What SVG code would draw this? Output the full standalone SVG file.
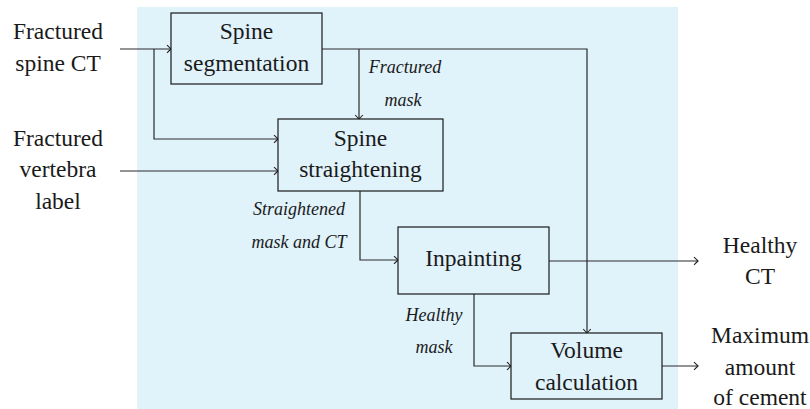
<svg xmlns="http://www.w3.org/2000/svg" width="810" height="409" viewBox="0 0 810 409" font-family="Liberation Serif, serif">
<defs>
<marker id="arr" viewBox="-6 -6 12 12" refX="0" refY="0" markerWidth="12" markerHeight="12" markerUnits="userSpaceOnUse" orient="auto">
<path d="M-4,-3.8 Q-1.2,-1.2 0,0 Q-1.2,1.2 -4,3.8" fill="none" stroke="#222" stroke-width="1.1"/>
</marker>
</defs>
<style>
.bg{fill:#e0f2fa;stroke:none}
.box{fill:#e0f2fa;stroke:#1a1a1a;stroke-width:1.2}
text{fill:#1a1a1a;text-anchor:middle}
.t{font-size:23.5px}
.i{font-size:18px;font-style:italic}
.c{fill:none;stroke:#2a2a2a;stroke-width:1.2}
.a{marker-end:url(#arr)}
</style>
<rect class="bg" x="137" y="7" width="541" height="402"/>
<g id="connectors">
<path class="c a" d="M120,49 H171"/>
<path class="c a" d="M154,49 V139 H278"/>
<path class="c a" d="M120,171 H278"/>
<path class="c a" d="M322,49 H587 V333"/>
<path class="c a" d="M359,49 V119"/>
<path class="c a" d="M360,191 V260 H398"/>
<path class="c a" d="M549,261 H698"/>
<path class="c a" d="M474,294 V366 H511"/>
<path class="c a" d="M662,366 H698"/>
</g>
<g id="labels" font-family="Liberation Serif">
<text class="i" x="405" y="73">Fractured</text>
<text class="i" x="403" y="106">mask</text>
<text class="i" x="299" y="215">Straightened</text>
<text class="i" x="299" y="248">mask and CT</text>
<text class="i" x="434" y="321">Healthy</text>
<text class="i" x="434" y="353">mask</text>
</g>
<g id="in-ct" font-family="Liberation Serif">
<text class="t" x="58" y="39">Fractured</text>
<text class="t" x="58" y="71">spine CT</text>
</g>
<g id="in-label" font-family="Liberation Serif">
<text class="t" x="58" y="146">Fractured</text>
<text class="t" x="58" y="177">vertebra</text>
<text class="t" x="58" y="209">label</text>
</g>
<g id="seg" font-family="Liberation Serif">
<rect class="box" x="171" y="13" width="151" height="71"/>
<text class="t" x="246.5" y="39">Spine</text>
<text class="t" x="246.5" y="71">segmentation</text>
</g>
<g id="straight" font-family="Liberation Serif">
<rect class="box" x="278" y="119" width="165" height="72"/>
<text class="t" x="360.5" y="146">Spine</text>
<text class="t" x="360.5" y="177">straightening</text>
</g>
<g id="inpaint" font-family="Liberation Serif">
<rect class="box" x="398" y="227" width="151" height="67"/>
<text class="t" x="473.5" y="266">Inpainting</text>
</g>
<g id="volume" font-family="Liberation Serif">
<rect class="box" x="511" y="333" width="151" height="66"/>
<text class="t" x="586.5" y="358">Volume</text>
<text class="t" x="586.5" y="390">calculation</text>
</g>
<g id="out-ct" font-family="Liberation Serif">
<text class="t" x="760" y="253">Healthy</text>
<text class="t" x="760" y="284">CT</text>
</g>
<g id="out-cement" font-family="Liberation Serif">
<text class="t" x="760" y="343">Maximum</text>
<text class="t" x="760" y="375">amount</text>
<text class="t" x="760" y="405">of cement</text>
</g>
</svg>
